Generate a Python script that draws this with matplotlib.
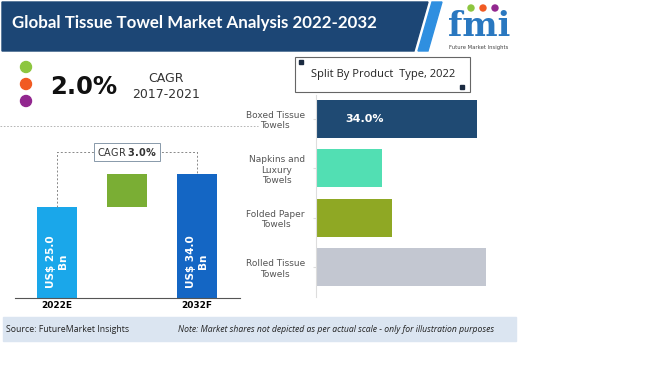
import matplotlib
matplotlib.use("Agg")
import matplotlib.pyplot as plt
from matplotlib.patches import Polygon, Rectangle, Circle

# waterfall (left)
years = ["2022E", "2032F"]
market_value = [25.0, 34.0]
value_labels = ["US$ 25.0\nBn", "US$ 34.0\nBn"]
cagr_forecast = "3.0%"
cagr_hist = "2.0%"
hist_period = "2017-2021"

# split by product type (right)
products = ["Boxed Tissue\nTowels", "Napkins and\nLuxury\nTowels", "Folded Paper\nTowels", "Rolled Tissue\nTowels"]
shares = [34.0, 14.0, 16.0, 36.0]
share_label = "34.0%"
product_colors = ["#1f4a73", "#52dfb3", "#8fa824", "#c3c7d1"]

W, H = 650, 365
fig = plt.figure(figsize=(W / 100, H / 100), dpi=100)

def fax(x0, y0, x1, y1):
    # pixel box (top-left origin) -> axes
    return fig.add_axes([x0 / W, 1 - y1 / H, (x1 - x0) / W, (y1 - y0) / H])

# background / decoration layer in pixel coordinates
bg = fig.add_axes([0, 0, 1, 1])
bg.set_xlim(0, W)
bg.set_ylim(H, 0)
bg.axis("off")

bg.add_patch(Polygon([[2, 2], [428, 2], [414, 51], [2, 51]], closed=True, color="#1c4675"))
bg.add_patch(Polygon([[432, 2], [442, 2], [428, 51], [418, 51]], closed=True, color="#2f8fe0"))
bg.text(12, 23, "Global Tissue Towel Market Analysis 2022-2032", color="white",
        fontsize=12.2, fontweight="bold", family="Lato", va="center", ha="left")

# logo
bg.text(479, 36, "fmi", color="#2a78c0", fontsize=24, fontweight="bold",
        family="DejaVu Serif", ha="center", va="baseline")
bg.text(479, 47.5, "Future Market Insights", color="#444444", fontsize=3.8, ha="center", va="center")
for cx, c in zip([471, 483, 495], ["#8dc63f", "#f15a22", "#92278f"]):
    bg.add_patch(Circle((cx, 8), 3, color=c))

# CAGR headline
for cy, c in zip([67, 84, 101], ["#8dc63f", "#f15a22", "#92278f"]):
    bg.add_patch(Circle((26, cy), 5.5, color=c))
bg.text(50, 87, cagr_hist, fontsize=17.5, fontweight="bold", ha="left", va="center", color="#111111")
bg.text(166, 78, "CAGR", fontsize=9, ha="center", va="center", color="#333333")
bg.text(166, 94, hist_period, fontsize=9, ha="center", va="center", color="#333333")
bg.plot([0, 258], [126, 126], ls=(0, (2, 2)), lw=0.6, color="#aaaaaa")

# footer
bg.add_patch(Rectangle((3, 317), 513, 24, color="#dbe5f1"))
bg.text(6, 329, "Source: FutureMarket Insights", fontsize=6.3, family="Open Sans",
        ha="left", va="center", color="#222222")
bg.text(178, 329, "Note: Market shares not depicted as per actual scale - only for illustration purposes",
        fontsize=6.2, family="Open Sans", style="italic", ha="left", va="center", color="#222222")

# split title box
bg.add_patch(Rectangle((295, 57), 175, 35, fill=False, ec="#666666", lw=0.8))
bg.add_patch(Rectangle((299, 60), 4, 4, color="#1a2a40"))
bg.add_patch(Rectangle((460, 85), 4, 4, color="#1a2a40"))
bg.text(383, 75, "Split By Product  Type, 2022", fontsize=8, family="Open Sans",
        ha="center", va="center", color="#222222")

# waterfall chart
ax = fax(15, 130, 240, 298)
xpos = [0, 2]
ax.bar(xpos, market_value, width=0.57, color=["#1aa7ea", "#1466c4"])
ax.bar(1, market_value[1] - market_value[0], bottom=market_value[0], width=0.57, color="#7aae34")
for x, lab in zip(xpos, value_labels):
    ax.text(x, 10, lab, rotation=90, color="white", fontsize=7.5, fontweight="bold",
            ha="center", va="center", multialignment="center")
top = 40
ax.plot([xpos[0], xpos[0], xpos[1], xpos[1]], [market_value[0], top, top, market_value[1]],
        ls=(0, (2, 2)), lw=0.7, color="#888888")
ax.text(1, top, "CAGR $\\bf{" + cagr_forecast.replace("%", "\\%") + "}$", fontsize=7, ha="center", va="center",
        color="#333333", bbox=dict(boxstyle="square,pad=0.3", fc="white", ec="#8899aa", lw=0.7))
ax.set_xlim(-0.6, 2.614)
ax.set_ylim(0, 46)
ax.set_xticks(xpos)
ax.set_xticklabels(years, fontsize=6.5, fontweight="bold")
ax.tick_params(length=0, pad=2)
ax.set_yticks([])
for s in ["top", "right", "left"]:
    ax.spines[s].set_visible(False)
ax.spines["bottom"].set_color("#555555")
ax.spines["bottom"].set_linewidth(0.8)
ax.patch.set_alpha(0)

# product split bars
ax2 = fax(316, 95, 500, 297)
ypos = list(range(len(products)))
ax2.barh(ypos, shares, height=0.77, color=product_colors)
ax2.text(10.3, 0, share_label, color="white", fontsize=8, fontweight="bold", ha="center", va="center")
ax2.set_xlim(0, 38.86)
ax2.set_ylim(3.6, -0.485)
ax2.set_yticks(ypos)
ax2.set_yticklabels(products, fontsize=6.5, color="#555555", multialignment="center")
ax2.tick_params(axis="y", length=2, color="#dddddd", pad=6)
ax2.set_xticks([])
for s in ["top", "right", "bottom"]:
    ax2.spines[s].set_visible(False)
ax2.spines["left"].set_color("#dddddd")
ax2.patch.set_alpha(0)

fig.savefig("out.png", dpi=100)
